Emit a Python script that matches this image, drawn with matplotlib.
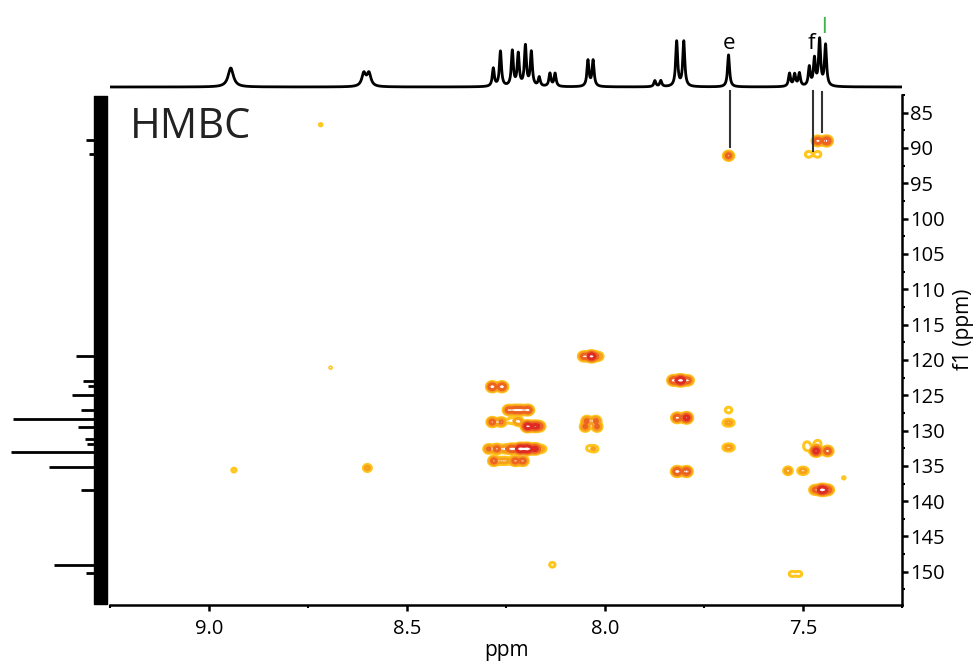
import numpy as np
import matplotlib
matplotlib.use("Agg")
import matplotlib.pyplot as plt
from matplotlib.ticker import MultipleLocator, FormatStrFormatter

plt.rcParams['font.family'] = ['Open Sans', 'DejaVu Sans']

# 1H projection on top: shift (ppm), height, half width (ppm)
h_shift = [8.945, 8.609, 8.596, 8.282, 8.264, 8.234, 8.219, 8.201, 8.186, 8.166,
           8.139, 8.126, 8.043, 8.030, 7.874, 7.859, 7.819, 7.801, 7.688,
           7.534, 7.521, 7.509, 7.484, 7.471, 7.458, 7.443]
h_height = [19, 13, 13, 18, 35, 35, 32, 40, 34, 9,
            13, 13, 26, 26, 6, 6, 45, 45, 32,
            13, 12, 13, 19, 27, 46, 41]
h_width = [0.008, 0.006, 0.006, 0.003, 0.003, 0.003, 0.003, 0.003, 0.003, 0.003,
           0.003, 0.003, 0.003, 0.003, 0.003, 0.003, 0.003, 0.003, 0.003,
           0.003, 0.003, 0.003, 0.003, 0.003, 0.003, 0.003]

# 13C projection on the left: shift (ppm), spike length
c_shift = [88.8, 90.9, 119.4, 123.0, 123.7, 124.9, 127.1, 128.3, 129.5, 131.2,
           131.9, 133.0, 135.1, 138.4, 149.0, 150.1]
c_height = [24, 21, 34, 27, 22, 38, 29, 97, 32, 25,
            23, 99, 61, 29, 56, 24]

# HMBC cross peaks: 1H shift, 13C shift, intensity
xp_h = [7.688, 7.486, 7.463, 7.463, 7.440, 8.718,
        8.054, 8.034, 8.016, 8.285, 8.260, 8.693,
        7.828, 7.809, 7.790,
        8.244, 8.227, 8.212, 8.194,
        7.688, 7.694, 7.682,
        8.285, 8.262, 8.238, 8.219,
        8.196, 8.178, 8.165,
        8.046, 8.023, 8.050, 8.020,
        7.818, 7.794,
        7.694, 7.682,
        8.294, 8.273, 8.252, 8.235, 8.214, 8.196, 8.176, 8.158,
        8.040, 8.026,
        8.281, 8.262, 8.248, 8.227, 8.207,
        7.818, 7.794,
        7.467, 7.438, 7.463, 7.490, 7.490,
        7.538, 7.505, 7.495,
        7.397,
        7.471, 7.452, 7.436,
        8.133, 7.528, 7.510,
        8.937, 8.600]
xp_c = [91.1, 90.9, 90.9, 89.0, 89.0, 86.7,
        119.5, 119.5, 119.5, 123.8, 123.8, 121.1,
        122.9, 122.9, 122.9,
        127.1, 127.1, 127.1, 127.1,
        127.1, 128.9, 128.9,
        128.8, 128.8, 128.6, 128.7,
        129.4, 129.4, 129.4,
        128.6, 128.6, 129.5, 129.5,
        128.2, 128.2,
        132.4, 132.4,
        132.6, 132.6, 132.6, 132.6, 132.6, 132.6, 132.6, 132.6,
        132.5, 132.6,
        134.3, 134.3, 134.3, 134.3, 134.3,
        135.8, 135.8,
        132.9, 132.9, 131.8, 131.9, 132.5,
        135.7, 135.7, 135.7,
        136.7,
        138.4, 138.4, 138.4,
        149.0, 150.3, 150.3,
        135.6, 135.3]
xp_amp = [5, 1.8, 1.8, 6, 7, 1.1,
          5, 11, 3, 7, 7, 1.05,
          6, 12, 5,
          5, 5, 5, 6,
          1.8, 1.7, 1.7,
          5, 4, 1.6, 3.5,
          10, 7, 5,
          4, 4, 4, 4,
          6, 9,
          1.8, 1.8,
          4, 5, 3, 6, 12, 12, 8, 2,
          1.4, 1.8,
          5, 2, 2, 5, 5,
          7, 7,
          9, 6, 1.8, 1.3, 1.3,
          3, 1.7, 1.7,
          1.1,
          4, 12, 5,
          1.5, 1.5, 1.5,
          1.3, 2.5]

W, H = 973, 666


def box(x0, y0, x1, y1):
    return [x0 / W, 1 - y1 / H, (x1 - x0) / W, (y1 - y0) / H]


fig = plt.figure(figsize=(W / 100, H / 100), dpi=100)
ax = fig.add_axes(box(110, 95, 902, 605))
ax_top = fig.add_axes(box(110, 0, 902, 95), sharex=ax)
ax_left = fig.add_axes(box(0, 95, 110, 605), sharey=ax)

ax.set_xlim(9.25, 7.25)
ax.set_ylim(154.7, 82.5)

# 2D contour map
hx = np.linspace(7.25, 9.25, 1401)
cy = np.linspace(82.5, 154.7, 1000)
Z = np.zeros((cy.size, hx.size))
sh, sc = 0.0074, 0.37
for h, c, a in zip(xp_h, xp_c, xp_amp):
    Z += a * np.outer(np.exp(-0.5 * ((cy - c) / sc) ** 2),
                      np.exp(-0.5 * ((hx - h) / sh) ** 2))
levels = [1, 2, 3.8, 7]
colors = ['#ffc61e', '#f7a01c', '#ec6420', '#de2b24']
ax.contour(hx, cy, Z, levels=levels, colors=colors, linewidths=2.2)

# top 1H trace
hs = np.linspace(7.25, 9.25, 6001)
spec = np.zeros_like(hs)
for s, hh, w in zip(h_shift, h_height, h_width):
    spec += hh * w ** 2 / ((hs - s) ** 2 + w ** 2)
ax_top.plot(hs, spec, color='black', lw=2)
ax_top.set_ylim(-8, 87)
ax_top.axis('off')
ax_top.text(7.688, 38, 'e', fontsize=16, ha='center', va='baseline')
ax_top.text(7.478, 38, 'f', fontsize=16, ha='center', va='baseline')
ax_top.text(7.446, 54, 'l', fontsize=16, ha='center', va='baseline', color='#3db54a')

# left 13C trace
ax_left.set_xlim(110, 0)
ax_left.fill_betweenx([82.6, 154.6], 3, 16, color='black')
ax_left.hlines(c_shift, 9, c_height, color='black', lw=2)
ax_left.axis('off')

# assignment lines
ax.plot([7.685, 7.685], [82.0, 89.8], color='#333333', lw=1.5, clip_on=False)
ax.plot([7.476, 7.476], [82.0, 90.4], color='#333333', lw=1.5, clip_on=False)
ax.plot([7.451, 7.451], [82.1, 87.8], color='#333333', lw=1.5, clip_on=False)

ax.text(0.025, 0.916, 'HMBC', transform=ax.transAxes, fontsize=30,
        va='baseline', ha='left', color='#222222')

ax.xaxis.set_major_locator(MultipleLocator(0.5))
ax.xaxis.set_minor_locator(MultipleLocator(0.25))
ax.xaxis.set_major_formatter(FormatStrFormatter('%.1f'))
ax.yaxis.set_major_locator(MultipleLocator(5))
ax.yaxis.set_minor_locator(MultipleLocator(2.5))
ax.yaxis.tick_right()
ax.yaxis.set_label_position('right')
for s in ['top', 'left']:
    ax.spines[s].set_visible(False)
for s in ['bottom', 'right']:
    ax.spines[s].set_linewidth(1.8)
ax.tick_params(which='major', length=4, width=1.8, labelsize=14.5)
ax.tick_params(which='minor', length=2.5, width=1.5)
ax.tick_params(axis='y', pad=2)
ax.tick_params(axis='x', pad=6)
ax.set_xlabel('ppm', fontsize=15, labelpad=1)
ax.set_ylabel('f1 (ppm)', fontsize=15, rotation=90, va='center')
ax.yaxis.set_label_coords(1.078, 0.54)

fig.savefig('out.png', dpi=100)
